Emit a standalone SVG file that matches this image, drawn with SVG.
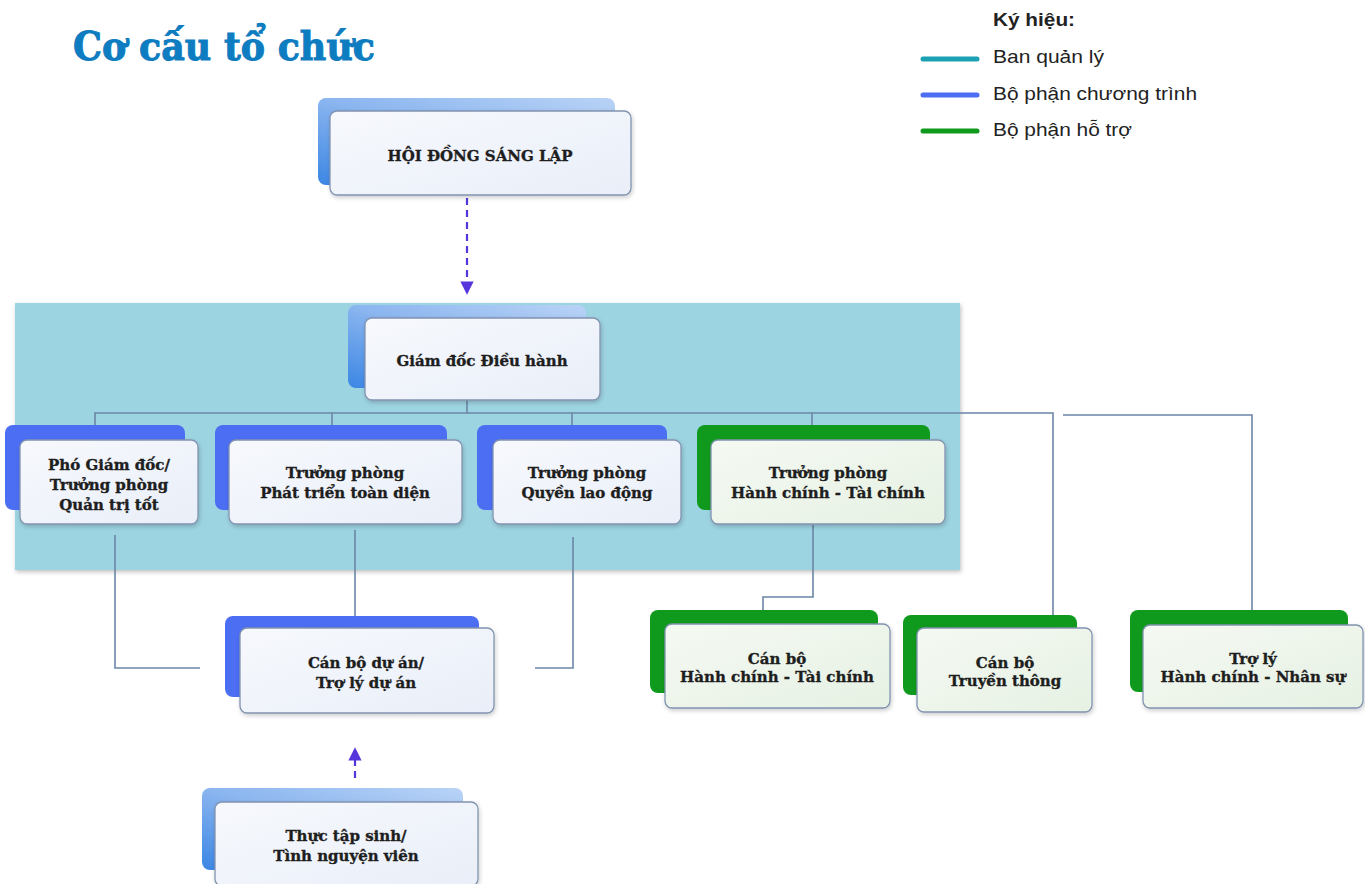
<svg xmlns="http://www.w3.org/2000/svg" width="1365" height="884" viewBox="0 0 1365 884">
<defs>
<style>
.t{font-family:"DejaVu Serif","Liberation Serif",serif;font-weight:bold;font-size:15px;fill:#1e1e1e;stroke:#1e1e1e;stroke-width:0.35;text-anchor:middle}
.lg{font-family:"Liberation Sans",Arial,sans-serif;font-size:18.5px;fill:#222}
.front{fill:url(#gFront);stroke:#8193b0;stroke-width:1.3;filter:url(#sh)}
.frontG{fill:url(#gFrontG);stroke:#8193b0;stroke-width:1.3;filter:url(#sh)}
.bBlue{fill:#4c6ef3}
.bGreen{fill:#109a1d}
.bLight{fill:url(#gLight)}
.con{fill:none;stroke:#6b86a6;stroke-width:1.6}
.dash{fill:none;stroke:#5636dc;stroke-width:2.2;stroke-dasharray:7 5}
</style>
<linearGradient id="gFront" x1="0" y1="0" x2="1" y2="1">
<stop offset="0" stop-color="#f7f9fd"/><stop offset="1" stop-color="#e9eef8"/>
</linearGradient>
<linearGradient id="gFrontG" x1="0" y1="0" x2="1" y2="1">
<stop offset="0" stop-color="#f5f9f3"/><stop offset="1" stop-color="#e6f1e3"/>
</linearGradient>
<linearGradient id="gLight" x1="0" y1="1" x2="1" y2="0">
<stop offset="0" stop-color="#3b86e4"/><stop offset="0.5" stop-color="#8ab5ef"/><stop offset="1" stop-color="#b9d3f6"/>
</linearGradient>
<filter id="sh" x="-10%" y="-10%" width="120%" height="130%">
<feDropShadow dx="1" dy="2" stdDeviation="2" flood-color="#000" flood-opacity="0.2"/>
</filter>
<filter id="sh2" x="-5%" y="-5%" width="110%" height="110%">
<feDropShadow dx="1" dy="2" stdDeviation="2" flood-color="#000" flood-opacity="0.25"/>
</filter>
<marker id="arr" viewBox="0 0 10 10" refX="8" refY="5" markerWidth="6" markerHeight="6" orient="auto" markerUnits="strokeWidth">
<path d="M0,0 L10,5 L0,10 z" fill="#5636dc"/>
</marker>
</defs>
<rect width="1365" height="884" fill="#ffffff"/>

<text x="73" y="60" font-family="'DejaVu Serif',serif" font-weight="bold" font-size="40" fill="#0d7cc0" stroke="#0d7cc0" stroke-width="1" textLength="302" lengthAdjust="spacingAndGlyphs">Cơ cấu tổ chức</text>

<g id="legend">
<text x="993" y="26" class="lg" font-weight="bold" font-size="17" textLength="82" lengthAdjust="spacingAndGlyphs">Ký hiệu:</text>
<line x1="923" y1="59" x2="977" y2="59" stroke="#1ba0b4" stroke-width="5" stroke-linecap="round"/>
<line x1="923" y1="95" x2="977" y2="95" stroke="#4c6ef3" stroke-width="5" stroke-linecap="round"/>
<line x1="923" y1="131" x2="977" y2="131" stroke="#109a1d" stroke-width="5" stroke-linecap="round"/>
<text x="993" y="63" class="lg" textLength="111" lengthAdjust="spacingAndGlyphs">Ban quản lý</text>
<text x="993" y="100" class="lg" textLength="204" lengthAdjust="spacingAndGlyphs">Bộ phận chương trình</text>
<text x="993" y="136" class="lg" textLength="139" lengthAdjust="spacingAndGlyphs">Bộ phận hỗ trợ</text>
</g>

<rect id="ban-quan-ly" x="15" y="303" width="945" height="267" fill="#9dd4e2" filter="url(#sh2)"/>

<g id="connectors">
<path class="dash" d="M467,198 V292" marker-end="url(#arr)"/>
<path class="dash" d="M355,778 V750" marker-end="url(#arr)"/>
<path class="con" d="M467,400 V413"/>
<path class="con" d="M95,427 V413 H1053 V615"/>
<path class="con" d="M332,413 V427"/>
<path class="con" d="M572,413 V427"/>
<path class="con" d="M812,413 V427"/>
<path class="con" d="M1063,415 H1252 V625"/>
<path class="con" d="M115,535 V668 H200"/>
<path class="con" d="M355,530 V616"/>
<path class="con" d="M573,537 V668 H535"/>
<path class="con" d="M813,525 V597 H763 V610"/>
</g>

<g id="hoi-dong">
<rect class="bLight" x="318" y="98" width="297" height="87" rx="8"/>
<rect class="front" x="330" y="111" width="301" height="84" rx="7"/>
<text class="t" x="480" y="161">HỘI ĐỒNG SÁNG LẬP</text>
</g>

<g id="giam-doc">
<rect class="bLight" x="348" y="305" width="238" height="83" rx="8"/>
<rect class="front" x="365" y="318" width="235" height="82" rx="7"/>
<text class="t" x="482" y="366">Giám đốc Điều hành</text>
</g>

<g id="pho-giam-doc">
<rect class="bBlue" x="5" y="425" width="180" height="85" rx="8"/>
<rect class="front" x="20" y="440" width="178" height="84" rx="7"/>
<text class="t" x="109" y="470">Phó Giám đốc/</text>
<text class="t" x="109" y="490">Trưởng phòng</text>
<text class="t" x="109" y="510">Quản trị tốt</text>
</g>

<g id="phat-trien">
<rect class="bBlue" x="215" y="425" width="232" height="85" rx="8"/>
<rect class="front" x="229" y="440" width="233" height="84" rx="7"/>
<text class="t" x="345" y="478">Trưởng phòng</text>
<text class="t" x="345" y="498">Phát triển toàn diện</text>
</g>

<g id="quyen-lao-dong">
<rect class="bBlue" x="477" y="425" width="190" height="85" rx="8"/>
<rect class="front" x="493" y="440" width="188" height="84" rx="7"/>
<text class="t" x="587" y="478">Trưởng phòng</text>
<text class="t" x="587" y="498">Quyền lao động</text>
</g>

<g id="hanh-chinh-tai-chinh">
<rect class="bGreen" x="697" y="425" width="233" height="85" rx="8"/>
<rect class="frontG" x="711" y="440" width="234" height="84" rx="7"/>
<text class="t" x="828" y="478">Trưởng phòng</text>
<text class="t" x="828" y="498">Hành chính - Tài chính</text>
</g>

<g id="can-bo-du-an">
<rect class="bBlue" x="225" y="616" width="254" height="81" rx="8"/>
<rect class="front" x="240" y="628" width="254" height="85" rx="7"/>
<text class="t" x="366" y="668">Cán bộ dự án/</text>
<text class="t" x="366" y="688">Trợ lý dự án</text>
</g>

<g id="thuc-tap-sinh">
<rect class="bLight" x="202" y="788" width="261" height="82" rx="8"/>
<rect class="front" x="215" y="802" width="263" height="84" rx="7"/>
<text class="t" x="346" y="841">Thực tập sinh/</text>
<text class="t" x="346" y="861">Tình nguyện viên</text>
</g>

<g id="can-bo-hctc">
<rect class="bGreen" x="650" y="610" width="228" height="83" rx="8"/>
<rect class="frontG" x="665" y="624" width="225" height="84" rx="7"/>
<text class="t" x="777" y="664">Cán bộ</text>
<text class="t" x="777" y="682">Hành chính - Tài chính</text>
</g>

<g id="can-bo-truyen-thong">
<rect class="bGreen" x="903" y="615" width="174" height="80" rx="8"/>
<rect class="frontG" x="917" y="628" width="175" height="84" rx="7"/>
<text class="t" x="1005" y="668">Cán bộ</text>
<text class="t" x="1005" y="686">Truyền thông</text>
</g>

<g id="tro-ly">
<rect class="bGreen" x="1130" y="610" width="218" height="82" rx="8"/>
<rect class="frontG" x="1143" y="625" width="220" height="83" rx="7"/>
<text class="t" x="1253" y="664">Trợ lý</text>
<text class="t" x="1253" y="682">Hành chính - Nhân sự</text>
</g>
</svg>
